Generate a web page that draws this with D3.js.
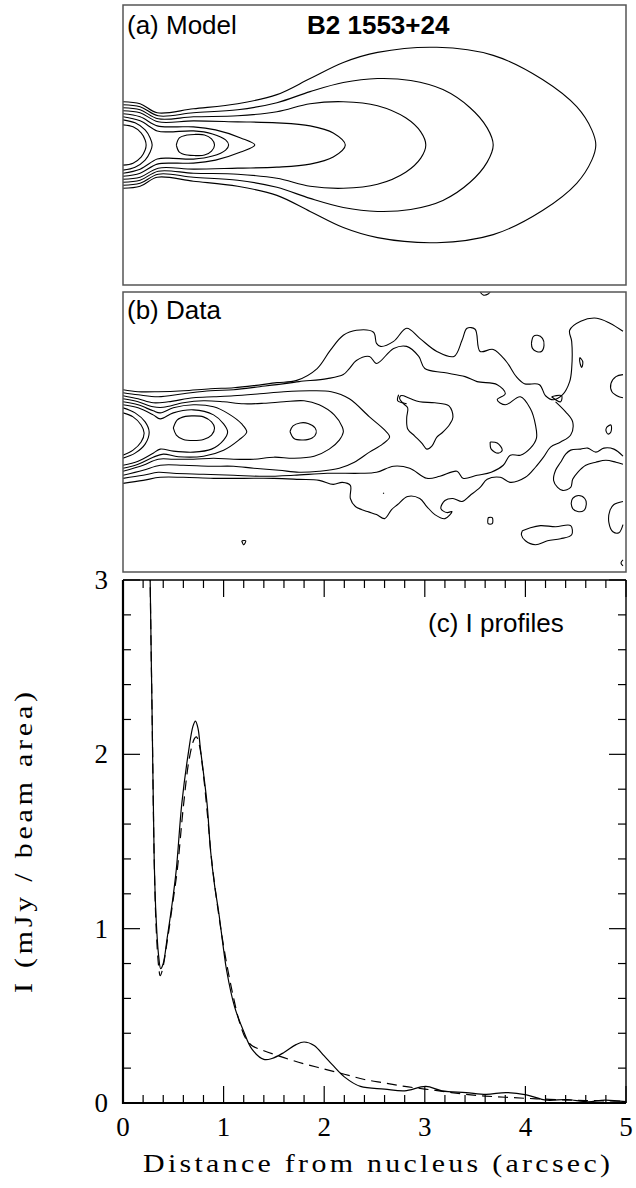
<!DOCTYPE html>
<html>
<head>
<meta charset="utf-8">
<script src="https://cdn.jsdelivr.net/npm/d3@7/dist/d3.min.js"></script>
<style>
  body { margin: 0; background: #fff; }
</style>
</head>
<body>
<div id="chart"></div>
<script>
// ---- profile data (arcsec, mJy / beam area) ----
const dataProfile = [[0.26,3.6],[0.27,3.0],[0.29,2.2],[0.31,1.4],[0.33,1.05],[0.355,0.84],[0.375,0.77],[0.40,0.80],[0.44,0.95],
  [0.49,1.15],[0.53,1.34],[0.585,1.72],[0.65,2.01],[0.695,2.16],[0.72,2.19],[0.745,2.15],[0.77,2.03],[0.835,1.72],[0.87,1.45],
  [0.91,1.25],[0.95,1.10],[1.0,0.88],[1.03,0.76],[1.11,0.55],[1.20,0.41],[1.28,0.31],[1.40,0.25],[1.48,0.255],[1.60,0.29],
  [1.72,0.335],[1.80,0.35],[1.90,0.33],[2.00,0.27],[2.08,0.22],[2.20,0.15],[2.36,0.095],[2.60,0.08],[2.80,0.07],[3.01,0.095],
  [3.17,0.07],[3.41,0.06],[3.61,0.05],[3.81,0.06],[4.01,0.047],[4.21,0.016],[4.41,0.02],[4.62,0.007],[4.79,0.017],[5.0,0.008]];
const modelProfile = [[0.26,3.6],[0.27,3.0],[0.29,2.2],[0.31,1.4],[0.33,1.0],[0.355,0.78],[0.37,0.73],[0.39,0.76],[0.44,0.93],
  [0.49,1.13],[0.54,1.34],[0.60,1.70],[0.66,1.98],[0.71,2.09],[0.73,2.10],[0.76,2.05],[0.80,1.88],[0.84,1.65],[0.88,1.40],
  [0.93,1.17],[0.98,0.97],[1.04,0.77],[1.10,0.60],[1.16,0.46],[1.22,0.37],[1.28,0.33],[1.40,0.30],[1.60,0.26],[1.80,0.225],
  [2.00,0.195],[2.20,0.165],[2.40,0.135],[2.60,0.115],[2.80,0.095],[3.00,0.08],[3.20,0.065],[3.40,0.05],[3.60,0.04],[3.80,0.033],
  [4.00,0.027],[4.20,0.022],[4.40,0.017],[4.60,0.014],[4.80,0.012],[5.0,0.01]];

const xTicks = [0, 1, 2, 3, 4, 5];
const yTicks = [0, 1, 2, 3];

// ---- model contours: upper halves (arcsec along jet, arcsec from axis), mirrored below ----
const modelContours = [
  [[0,0.43],[0.17,0.41],[0.34,0.32],[0.70,0.36],[1.14,0.41],[1.53,0.50],[1.86,0.66],[2.19,0.82],[2.53,0.92],[3.12,0.97],[3.68,0.89],[4.17,0.65],[4.51,0.38],[4.66,0.15],[4.70,0]],
  [[0,0.40],[0.17,0.38],[0.35,0.29],[0.70,0.32],[1.14,0.35],[1.53,0.42],[1.86,0.53],[2.19,0.62],[2.53,0.66],[2.86,0.64],[3.18,0.55],[3.45,0.37],[3.62,0.17],[3.68,0]],
  [[0,0.37],[0.17,0.35],[0.35,0.26],[0.70,0.28],[1.14,0.29],[1.53,0.33],[1.86,0.41],[2.19,0.43],[2.53,0.39],[2.81,0.27],[2.96,0.13],[3.01,0]],
  [[0,0.34],[0.17,0.32],[0.35,0.23],[0.70,0.24],[1.14,0.23],[1.53,0.22],[1.86,0.19],[2.09,0.12],[2.21,0]],
  [[0,0.31],[0.17,0.28],[0.34,0.19],[0.52,0.18],[0.70,0.18],[0.92,0.15],[1.17,0.07],[1.31,0]],
  [[0,0.28],[0.17,0.24],[0.34,0.14],[0.45,0.13],[0.70,0.14],[0.89,0.11],[1.02,0.05],[1.05,0]],
  [[0,0.25],[0.12,0.22],[0.22,0.15],[0.27,0.07],[0.29,0]],
  [[0,0.20],[0.10,0.18],[0.18,0.12],[0.22,0.05],[0.23,0]],
  [[0.53,0],[0.56,0.07],[0.64,0.10],[0.72,0.105],[0.81,0.10],[0.88,0.06],[0.91,0]]
];

// ---- data contours (arcsec along jet, arcsec from axis) ----
const dataContours = [
  // core arcs
  [[0,0.19],[0.10,0.15],[0.18,0.07],[0.21,-0.01],[0.18,-0.10],[0.10,-0.18],[0,-0.23]],
  [[0,0.24],[0.12,0.19],[0.22,0.10],[0.26,0],[0.22,-0.12],[0.12,-0.21],[0,-0.26]],
  // knots
  [[0.50,0.04],[0.54,0.12],[0.62,0.155],[0.70,0.16],[0.80,0.15],[0.88,0.10],[0.91,0.04],[0.88,-0.03],[0.80,-0.075],[0.70,-0.085],[0.60,-0.075],[0.53,-0.03],[0.50,0.04]],
  [[1.66,0.005],[1.69,0.06],[1.76,0.09],[1.84,0.085],[1.91,0.04],[1.92,-0.01],[1.88,-0.06],[1.79,-0.08],[1.70,-0.065],[1.66,0.005]],
  // nested jet levels
  [[0,0.27],[0.15,0.24],[0.30,0.17],[0.37,0.13],[0.50,0.19],[0.70,0.22],[0.90,0.17],[1.00,0.08],[1.04,0],[1.00,-0.08],[0.88,-0.17],[0.70,-0.20],[0.50,-0.19],[0.37,-0.17],[0.30,-0.21],[0.15,-0.29],[0,-0.33]],
  [[0,0.30],[0.15,0.27],[0.30,0.21],[0.37,0.19],[0.50,0.24],[0.70,0.27],[0.90,0.25],[1.05,0.18],[1.18,0.08],[1.23,0],[1.15,-0.08],[1.00,-0.18],[0.80,-0.24],[0.55,-0.245],[0.40,-0.22],[0.30,-0.25],[0.15,-0.32],[0,-0.36]],
  [[0,0.33],[0.15,0.30],[0.30,0.25],[0.40,0.245],[0.60,0.29],[0.80,0.31],[1.00,0.30],[1.20,0.28],[1.40,0.285],[1.60,0.30],[1.80,0.31],[1.95,0.27],[2.10,0.17],[2.18,0.05],[2.19,0],[2.15,-0.08],[2.05,-0.17],[1.90,-0.24],[1.70,-0.26],[1.50,-0.25],[1.30,-0.27],[1.10,-0.27],[0.90,-0.26],[0.70,-0.27],[0.50,-0.27],[0.35,-0.27],[0.20,-0.33],[0,-0.39]],
  [[0,0.36],[0.15,0.33],[0.30,0.29],[0.45,0.30],[0.70,0.34],[0.90,0.35],[1.10,0.36],[1.36,0.38],[1.60,0.40],[1.86,0.41],[2.07,0.40],[2.25,0.33],[2.45,0.15],[2.60,0.02],[2.65,-0.05],[2.58,-0.12],[2.45,-0.20],[2.30,-0.30],[2.15,-0.36],[1.95,-0.39],[1.75,-0.40],[1.55,-0.38],[1.30,-0.36],[1.10,-0.34],[0.87,-0.34],[0.60,-0.33],[0.37,-0.33],[0.20,-0.38],[0,-0.43]],
  [[0,0.39],[0.15,0.37],[0.35,0.35],[0.60,0.38],[0.87,0.41],[1.10,0.42],[1.36,0.45],[1.53,0.47],[1.75,0.50],[2.03,0.53],[2.19,0.57],[2.25,0.63],[2.32,0.71],[2.45,0.75],[2.52,0.68],[2.69,0.83],[2.82,0.85],[2.94,0.75],[3.00,0.63],[3.19,0.59],[3.40,0.55],[3.52,0.50],[3.72,0.47],[3.80,0.38],[3.72,0.32],[3.80,0.27],[3.95,0.35],[4.05,0.23],[4.10,0.07],[4.11,-0.06],[4.05,-0.16],[3.95,-0.23],[3.85,-0.23],[3.78,-0.33],[3.66,-0.40],[3.52,-0.43],[3.38,-0.46],[3.32,-0.39],[3.15,-0.44],[3.02,-0.46],[2.85,-0.36],[2.69,-0.34],[2.52,-0.40],[2.36,-0.41],[2.03,-0.41],[1.70,-0.43],[1.40,-0.44],[1.10,-0.43],[0.80,-0.42],[0.50,-0.41],[0.35,-0.40],[0.20,-0.43],[0,-0.46]],
  // outermost level, upper side
  [[0,0.42],[0.15,0.40],[0.35,0.40],[0.60,0.41],[0.87,0.43],[1.10,0.44],[1.30,0.46],[1.53,0.49],[1.72,0.51],[1.93,0.63],[2.06,0.81],[2.19,0.96],[2.32,1.01],[2.49,0.99],[2.52,0.88],[2.56,0.85],[2.69,0.90],[2.82,1.03],[2.95,0.93],[3.12,0.80],[3.29,0.75],[3.37,0.91],[3.42,1.03],[3.50,1.02],[3.55,0.80],[3.68,0.82],[3.81,0.70],[3.91,0.55],[3.99,0.48],[4.14,0.47],[4.20,0.36],[4.28,0.32],[4.37,0.37],[4.44,0.50],[4.46,0.63],[4.46,0.90],[4.44,1.01],[4.55,1.10],[4.71,1.13],[4.84,1.08],[4.97,1.00]],
  // outermost level, lower side
  [[4.30,0.30],[4.40,0.20],[4.47,0.10],[4.45,-0.03],[4.35,-0.10],[4.25,-0.15],[4.18,-0.25],[4.10,-0.35],[4.00,-0.45],[3.85,-0.50],[3.75,-0.45],[3.62,-0.47],[3.55,-0.55],[3.45,-0.63],[3.37,-0.69],[3.28,-0.66],[3.20,-0.68],[3.16,-0.76],[3.22,-0.80],[3.27,-0.79],[3.20,-0.86],[3.10,-0.82],[3.02,-0.74],[2.95,-0.66],[2.83,-0.64],[2.73,-0.72],[2.67,-0.77],[2.60,-0.86],[2.52,-0.82],[2.43,-0.79],[2.31,-0.74],[2.26,-0.66],[2.26,-0.53],[2.18,-0.50],[2.09,-0.52],[1.95,-0.48],[1.75,-0.47],[1.50,-0.46],[1.20,-0.46],[0.90,-0.46],[0.60,-0.45],[0.37,-0.45],[0.20,-0.48],[0,-0.51]],
  // islands
  [[2.79,0.36],[2.86,0.33],[2.95,0.30],[3.10,0.29],[3.24,0.26],[3.28,0.15],[3.25,0.08],[3.17,-0.01],[3.12,-0.05],[3.07,-0.14],[3.02,-0.17],[2.97,-0.11],[2.90,-0.04],[2.83,0.03],[2.82,0.14],[2.83,0.24],[2.79,0.28],[2.75,0.33],[2.76,0.36],[2.79,0.36]],
  [[2.74,0.37],[2.73,0.31],[2.78,0.29],[2.82,0.28]],
  [[3.65,-0.10],[3.72,-0.11],[3.77,-0.18],[3.73,-0.21],[3.66,-0.17],[3.65,-0.10]],
  [[4.06,0.88],[4.08,0.95],[4.12,0.96],[4.17,0.93],[4.185,0.86],[4.16,0.80],[4.11,0.80],[4.07,0.83],[4.06,0.88]],
  [[4.54,0.74],[4.57,0.70],[4.56,0.64],[4.54,0.70],[4.54,0.74]],
  [[4.26,0.35],[4.36,0.36],[4.35,0.30],[4.26,0.35]],
  [[4.97,0.57],[4.90,0.55],[4.85,0.48],[4.86,0.40],[4.93,0.35],[4.97,0.34]],
  [[4.81,0.05],[4.85,0.07],[4.85,0.00],[4.82,-0.02],[4.80,0.02],[4.81,0.05]],
  [[4.97,-0.24],[4.88,-0.17],[4.78,-0.16],[4.70,-0.20],[4.62,-0.16],[4.55,-0.17],[4.45,-0.18],[4.40,-0.22],[4.35,-0.30],[4.30,-0.38],[4.28,-0.48],[4.32,-0.55],[4.37,-0.58],[4.45,-0.55],[4.47,-0.47],[4.52,-0.40],[4.60,-0.33],[4.70,-0.30],[4.80,-0.28],[4.90,-0.30],[4.97,-0.32]],
  [[4.455,-0.71],[4.47,-0.66],[4.53,-0.63],[4.59,-0.66],[4.605,-0.72],[4.58,-0.78],[4.52,-0.79],[4.47,-0.76],[4.455,-0.71]],
  [[4.97,-0.69],[4.88,-0.72],[4.84,-0.78],[4.83,-0.90],[4.87,-0.99],[4.93,-1.00],[4.97,-0.92]],
  [[3.97,-0.98],[4.05,-0.95],[4.15,-0.93],[4.30,-0.94],[4.45,-0.93],[4.46,-1.02],[4.35,-1.06],[4.22,-1.08],[4.10,-1.12],[4.00,-1.08],[3.96,-1.02],[3.97,-0.98]],
  [[3.63,-0.85],[3.67,-0.85],[3.67,-0.91],[3.63,-0.91],[3.63,-0.85]],
  [[1.18,-1.08],[1.22,-1.08],[1.20,-1.12],[1.18,-1.08]],
  [[2.585,-0.605],[2.595,-0.61]],
  [[4.97,-1.27],[4.95,-1.30],[4.97,-1.33]],
  [[3.55,1.39],[3.58,1.36],[3.63,1.37],[3.65,1.39]]
];

// ---- layout ----
const W = 636, H = 1188;
const svg = d3.select("#chart").append("svg")
  .attr("width", W).attr("height", H)
  .style("font-family", "'Liberation Sans', Arial, sans-serif");

const x = d3.scaleLinear().domain([0, 5]).range([123, 626]);
const yA = d3.scaleLinear().domain([-1.39, 1.39]).range([285, 5]);
const yB = d3.scaleLinear().domain([-1.39, 1.39]).range([572, 292]);
const yC = d3.scaleLinear().domain([0, 3]).range([1103, 580]);

function clipFor(id, yScale) {
  svg.append("clipPath").attr("id", id).append("rect")
    .attr("x", x(0)).attr("y", yScale.range()[1])
    .attr("width", x(5) - x(0)).attr("height", yScale.range()[0] - yScale.range()[1]);
}
clipFor("clipA", yA);
clipFor("clipB", yB);
clipFor("clipC", yC);

// ---- panel (a): model ----
const lineA = d3.line().x(d => x(d[0])).y(d => yA(d[1])).curve(d3.curveCatmullRom.alpha(0.5));
const gA = svg.append("g").attr("clip-path", "url(#clipA)");
modelContours.forEach(half => {
  const full = half.concat(half.slice(0, -1).reverse().map(d => [d[0], -d[1]]));
  gA.append("path").attr("d", lineA(full))
    .attr("fill", "none").attr("stroke", "#000").attr("stroke-width", 1.1);
});
svg.append("rect").attr("x", x(0)).attr("y", yA(1.39))
  .attr("width", x(5) - x(0)).attr("height", yA(-1.39) - yA(1.39))
  .attr("fill", "none").attr("stroke", "#555").attr("stroke-width", 1.5);
svg.append("text").attr("x", 127).attr("y", 34).attr("font-size", 26).text("(a) Model");
svg.append("text").attr("x", 307).attr("y", 34).attr("font-size", 26).attr("font-weight", "bold").text("B2 1553+24");

// ---- panel (b): data ----
const lineB = d3.line().x(d => x(d[0])).y(d => yB(d[1])).curve(d3.curveCatmullRom.alpha(0.5));
const gB = svg.append("g").attr("clip-path", "url(#clipB)");
dataContours.forEach(c => {
  gB.append("path").attr("d", lineB(c))
    .attr("fill", "none").attr("stroke", "#000").attr("stroke-width", 1.1);
});
svg.append("rect").attr("x", x(0)).attr("y", yB(1.39))
  .attr("width", x(5) - x(0)).attr("height", yB(-1.39) - yB(1.39))
  .attr("fill", "none").attr("stroke", "#555").attr("stroke-width", 1.5);
svg.append("text").attr("x", 127).attr("y", 319).attr("font-size", 26).text("(b) Data");

// ---- panel (c): profiles ----
const lineC = d3.line().x(d => x(d[0])).y(d => yC(d[1])).curve(d3.curveCatmullRom.alpha(0.5));
const gC = svg.append("g").attr("clip-path", "url(#clipC)");
gC.append("path").attr("d", lineC(dataProfile))
  .attr("fill", "none").attr("stroke", "#000").attr("stroke-width", 1.2);
gC.append("path").attr("d", lineC(modelProfile))
  .attr("fill", "none").attr("stroke", "#000").attr("stroke-width", 1.2)
  .attr("stroke-dasharray", "10,6");

// axes with ticks on all sides
const minorX = d3.range(0, 5.001, 0.2);
const minorY = d3.range(0, 3.001, 0.2);
const majLen = 17, minLen = 8;
const axG = svg.append("g").attr("stroke", "#000");
minorX.forEach(v => {
  const major = Math.abs(v - Math.round(v)) < 1e-6;
  const L = major ? majLen : minLen;
  axG.append("line").attr("x1", x(v)).attr("x2", x(v)).attr("y1", yC(0)).attr("y2", yC(0) - L).attr("stroke-width", 1.2);
  axG.append("line").attr("x1", x(v)).attr("x2", x(v)).attr("y1", yC(3)).attr("y2", yC(3) + L).attr("stroke-width", 1.2);
});
minorY.forEach(v => {
  const major = Math.abs(v - Math.round(v)) < 1e-6;
  const L = major ? majLen : minLen;
  axG.append("line").attr("y1", yC(v)).attr("y2", yC(v)).attr("x1", x(0)).attr("x2", x(0) + L).attr("stroke-width", 1.2);
  axG.append("line").attr("y1", yC(v)).attr("y2", yC(v)).attr("x1", x(5)).attr("x2", x(5) - L).attr("stroke-width", 1.2);
});
axG.append("line").attr("x1", x(0)).attr("x2", x(5)).attr("y1", yC(3)).attr("y2", yC(3)).attr("stroke-width", 1.4);
axG.append("line").attr("x1", x(5)).attr("x2", x(5)).attr("y1", yC(0)).attr("y2", yC(3)).attr("stroke-width", 1.4);
axG.append("line").attr("x1", x(0) - 1).attr("x2", x(5)).attr("y1", yC(0)).attr("y2", yC(0)).attr("stroke-width", 2.2);
axG.append("line").attr("x1", x(0)).attr("x2", x(0)).attr("y1", yC(0) + 1).attr("y2", yC(3)).attr("stroke-width", 2.2);

const serif = "'Liberation Serif', 'DejaVu Serif', serif";
svg.append("g").selectAll("text").data(xTicks).join("text")
  .attr("x", d => x(d)).attr("y", 1136)
  .attr("text-anchor", "middle").attr("font-family", serif).attr("font-size", 27)
  .text(d => d);
svg.append("g").selectAll("text").data(yTicks).join("text")
  .attr("x", 108).attr("y", d => yC(d) + 9)
  .attr("text-anchor", "end").attr("font-family", serif).attr("font-size", 27)
  .text(d => d);

// axis titles: glyphs widened a little, rest taken up by spacing
const widen = 1.15;
svg.append("text")
  .attr("transform", `translate(143, 1172) scale(${widen}, 1)`)
  .attr("font-family", serif).attr("font-size", 26)
  .attr("textLength", 467 / widen).attr("lengthAdjust", "spacing")
  .text("Distance from nucleus (arcsec)");
svg.append("text")
  .attr("transform", `translate(32, 993) rotate(-90) scale(${widen}, 1)`)
  .attr("font-family", serif).attr("font-size", 26)
  .attr("textLength", 301 / widen).attr("lengthAdjust", "spacing")
  .text("I (mJy / beam area)");
svg.append("text").attr("x", 428).attr("y", 632).attr("font-size", 26).text("(c) I profiles");
</script>
</body>
</html>
